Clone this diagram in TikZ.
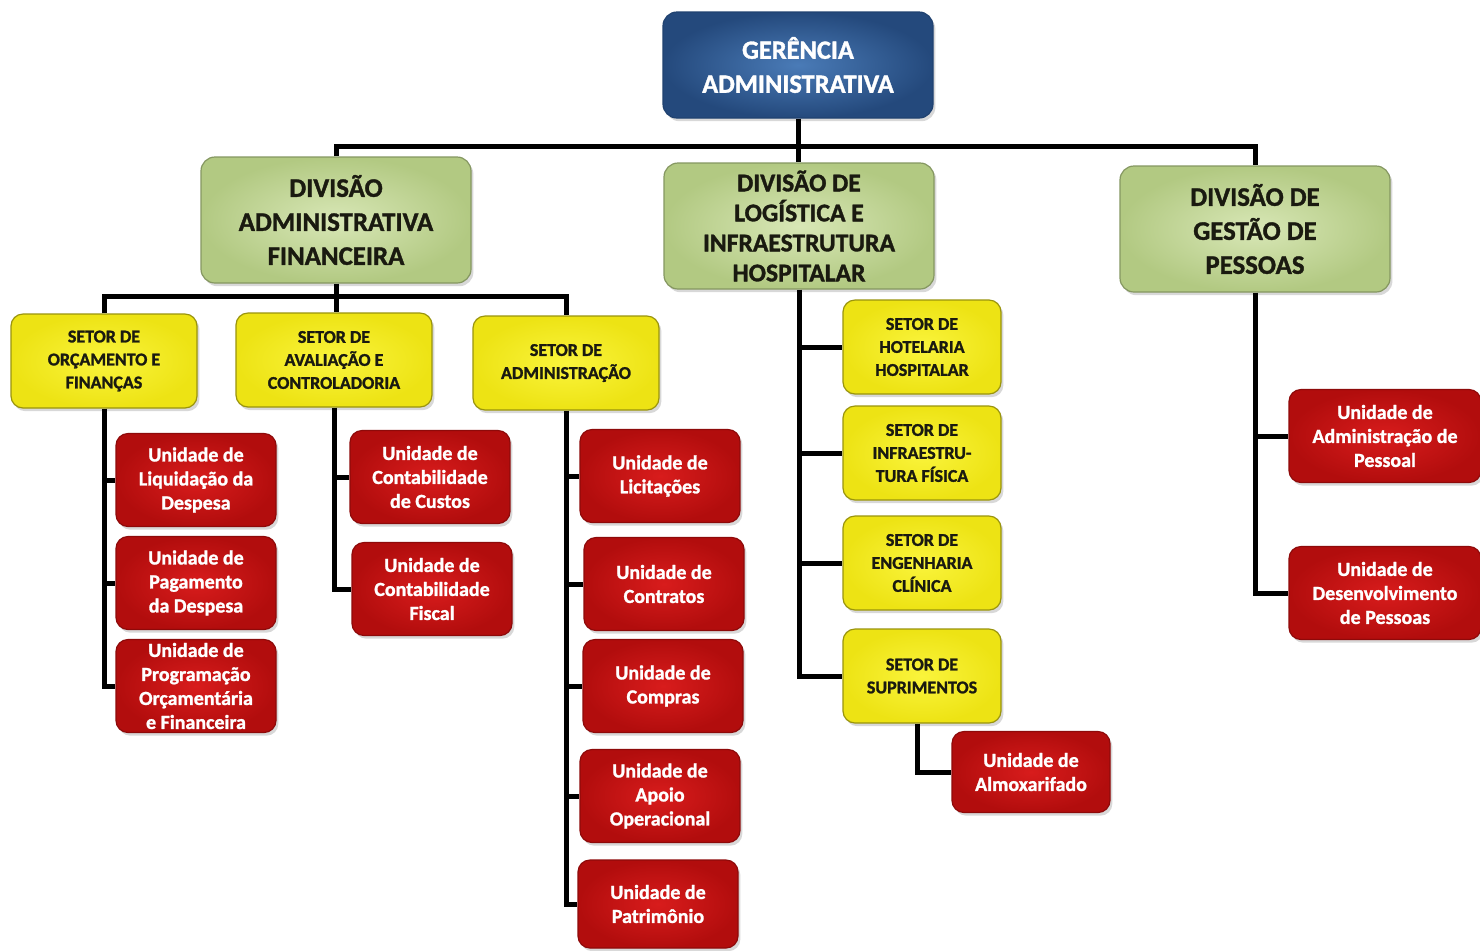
\documentclass[tikz,border=0pt]{standalone}
\usepackage{fontspec}
\setmainfont{Carlito}[BoldFeatures={FakeBold=1.3}]
\usetikzlibrary{shadows}

\definecolor{gerin}{HTML}{4A7BB7}
\definecolor{gerout}{HTML}{24497C}
\definecolor{divin}{HTML}{D8E7B6}
\definecolor{divout}{HTML}{B2C982}
\definecolor{setin}{HTML}{FAF43C}
\definecolor{setout}{HTML}{EDE314}
\definecolor{uniin}{HTML}{D81C1C}
\definecolor{uniout}{HTML}{B20D0D}
\definecolor{txtdark}{HTML}{1A1A10}

\tikzset{
  boxbase/.style={rounded corners=7pt, line width=0.6pt, align=center, inner sep=0pt,
    drop shadow={opacity=0.3, shadow xshift=1.2pt, shadow yshift=-1.6pt}},
  gerbox/.style={boxbase, draw=gerout!90!black, inner color=gerin, outer color=gerout,
    text=white, minimum width=135pt, minimum height=53pt,
    font=\bfseries\fontsize{13.2}{17}\selectfont},
  divbox/.style={boxbase, draw=divout!75!black, inner color=divin, outer color=divout,
    text=txtdark, minimum width=135pt, minimum height=63pt,
    font=\bfseries\fontsize{13.4}{17}\selectfont},
  setbox/.style={boxbase, rounded corners=6pt, draw=setout!65!black, inner color=setin,
    outer color=setout, text=txtdark, minimum width=93pt, minimum height=47pt,
    font=\bfseries\fontsize{9}{11.5}\selectfont},
  unibox/.style={boxbase, rounded corners=6pt, draw=uniout!80!black, inner color=uniin,
    outer color=uniout, text=white, minimum width=80pt, minimum height=46.5pt,
    font=\bfseries\fontsize{10}{12}\selectfont},
  link/.style={line width=2.5pt, black}
}

\begin{document}
\begin{tikzpicture}[x=0.5pt, y=-0.5pt]
\fill[white] (0,0) rectangle (1480,950);
\useasboundingbox (0,0) rectangle (1480,950);

% gerencia
\node[gerbox] (ger) at (798,65) {GERÊNCIA\\ADMINISTRATIVA};

% divisoes
\node[divbox] (dadf) at (336,220) {DIVISÃO\\ADMINISTRATIVA\\FINANCEIRA};
\node[divbox, font=\bfseries\fontsize{12.8}{15}\selectfont] (dlih) at (799,226)
  {DIVISÃO DE\\LOGÍSTICA E\\INFRAESTRUTURA\\HOSPITALAR};
\node[divbox] (dgp) at (1255,229) {DIVISÃO DE\\GESTÃO DE\\PESSOAS};

% setores
\node[setbox] (sof) at (104,361) {SETOR DE\\ORÇAMENTO E\\FINANÇAS};
\node[setbox, minimum width=98pt] (sac) at (334,360) {SETOR DE\\AVALIAÇÃO E\\CONTROLADORIA};
\node[setbox] (sadm) at (566,363) {SETOR DE\\ADMINISTRAÇÃO};
\node[setbox, minimum width=79pt] (shh) at (922,347) {SETOR DE\\HOTELARIA\\HOSPITALAR};
\node[setbox, minimum width=79pt] (sif) at (922,453) {SETOR DE\\INFRAESTRU-\\TURA FÍSICA};
\node[setbox, minimum width=79pt] (sec) at (922,563) {SETOR DE\\ENGENHARIA\\CLÍNICA};
\node[setbox, minimum width=79pt] (ssup) at (922,676) {SETOR DE\\SUPRIMENTOS};

% unidades
\node[unibox] (uliq) at (196,480) {Unidade de\\Liquidação da\\Despesa};
\node[unibox] (upag) at (196,583) {Unidade de\\Pagamento\\da Despesa};
\node[unibox] (uprog) at (196,686) {Unidade de\\Programação\\Orçamentária\\e Financeira};
\node[unibox] (uccu) at (430,477) {Unidade de\\Contabilidade\\de Custos};
\node[unibox] (ucfi) at (432,589) {Unidade de\\Contabilidade\\Fiscal};
\node[unibox] (ulic) at (660,476) {Unidade de\\Licitações};
\node[unibox] (ucon) at (664,584) {Unidade de\\Contratos};
\node[unibox] (ucom) at (663,686) {Unidade de\\Compras};
\node[unibox] (uapo) at (660,796) {Unidade de\\Apoio\\Operacional};
\node[unibox, minimum height=44pt] (upat) at (658,904) {Unidade de\\Patrimônio};
\node[unibox, minimum width=79pt, minimum height=40.5pt] (ualm) at (1031,772) {Unidade de\\Almoxarifado};
\node[unibox, minimum width=96pt] (uadp) at (1385,436) {Unidade de\\Administração de\\Pessoal};
\node[unibox, minimum width=96pt] (udes) at (1385,593) {Unidade de\\Desenvolvimento\\de Pessoas};

% ligacoes
\coordinate (busa) at (798,146);
\coordinate (busb) at (336,296);
\draw[link] (ger.south) -- (ger.south |- dlih.north);
\draw[link] (dadf.north) |- (busa) -| (dgp.north);
\draw[link] (dadf.south) -- (dadf.south |- sac.north);
\draw[link] (sof.north) |- (busb) -| (sadm.north);

\draw[link] (sof.south) |- (uprog.west);
\foreach \u in {uliq,upag} \draw[link] (sof.south |- \u.west) -- (\u.west);
\draw[link] (sac.south) |- (ucfi.west);
\draw[link] (sac.south |- uccu.west) -- (uccu.west);
\draw[link] (sadm.south) |- (upat.west);
\foreach \u in {ulic,ucon,ucom,uapo} \draw[link] (sadm.south |- \u.west) -- (\u.west);
\draw[link] (dlih.south) |- (ssup.west);
\foreach \u in {shh,sif,sec} \draw[link] (dlih.south |- \u.west) -- (\u.west);
\draw[link] ([xshift=-2.5pt]ssup.south) |- (ualm.west);
\draw[link] (dgp.south) |- (udes.west);
\draw[link] (dgp.south |- uadp.west) -- (uadp.west);

\end{tikzpicture}
\end{document}
